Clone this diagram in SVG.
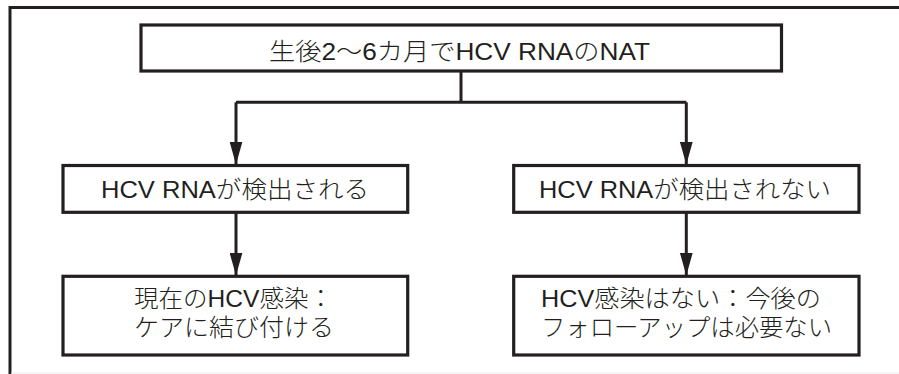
<svg xmlns="http://www.w3.org/2000/svg" width="899" height="374" viewBox="0 0 899 374">
<style>
.frame{fill:none;stroke:#231f20;stroke-width:3}
.box{fill:#fff;stroke:#231f20;stroke-width:3.2}
.conn{fill:none;stroke:#231f20;stroke-width:3}
.t{font-family:"Liberation Sans","Noto Sans CJK JP",sans-serif;font-size:24px;font-weight:300;fill:#231f20}
</style>
<defs>
<marker id="ah" markerWidth="23" markerHeight="13" refX="23" refY="6.5" orient="auto" markerUnits="userSpaceOnUse" viewBox="0 0 23 13">
<path d="M0,0 L23,6.5 L0,13 Z" fill="#231f20"/>
</marker>
</defs>
<rect width="899" height="374" fill="#fff"/>
<g id="frame">
<path class="frame" d="M10,374 V7.5 H899"/>
<line x1="11" y1="373" x2="899" y2="373" stroke="#ececec" stroke-width="1"/>
</g>
<g id="connectors">
<path class="conn" d="M461,71 V102.3"/>
<path class="conn" d="M236,102.3 H686.3"/>
<path class="conn" d="M236,102.3 V164.5" marker-end="url(#ah)"/>
<path class="conn" d="M686.3,102.3 V164.5" marker-end="url(#ah)"/>
<path class="conn" d="M236,212.3 V275.5" marker-end="url(#ah)"/>
<path class="conn" d="M686.3,212.3 V275.5" marker-end="url(#ah)"/>
</g>
<g id="n_top">
<rect class="box" x="141" y="25" width="640.5" height="46"/>
<text class="t" x="269" y="60" textLength="381" lengthAdjust="spacingAndGlyphs">生後2～6カ月でHCV RNAのNAT</text>
</g>
<g id="n_detected">
<rect class="box" x="63" y="165.5" width="344.7" height="46.8"/>
<text class="t" x="101" y="198" textLength="268" lengthAdjust="spacingAndGlyphs">HCV RNAが検出される</text>
</g>
<g id="n_notdetected">
<rect class="box" x="513.7" y="165.5" width="345.3" height="46.8"/>
<text class="t" x="539" y="198" textLength="292" lengthAdjust="spacingAndGlyphs">HCV RNAが検出されない</text>
</g>
<g id="n_current">
<rect class="box" x="63" y="276.3" width="344.7" height="78.7"/>
<text class="t" x="134" y="307" textLength="199" lengthAdjust="spacingAndGlyphs">現在のHCV感染：</text>
<text class="t" x="134" y="336" textLength="200" lengthAdjust="spacingAndGlyphs">ケアに結び付ける</text>
</g>
<g id="n_none">
<rect class="box" x="513.7" y="276.3" width="345.3" height="78.7"/>
<text class="t" x="541" y="307" textLength="280" lengthAdjust="spacingAndGlyphs">HCV感染はない：今後の</text>
<text class="t" x="541" y="336" textLength="291" lengthAdjust="spacingAndGlyphs">フォローアップは必要ない</text>
</g>
</svg>
